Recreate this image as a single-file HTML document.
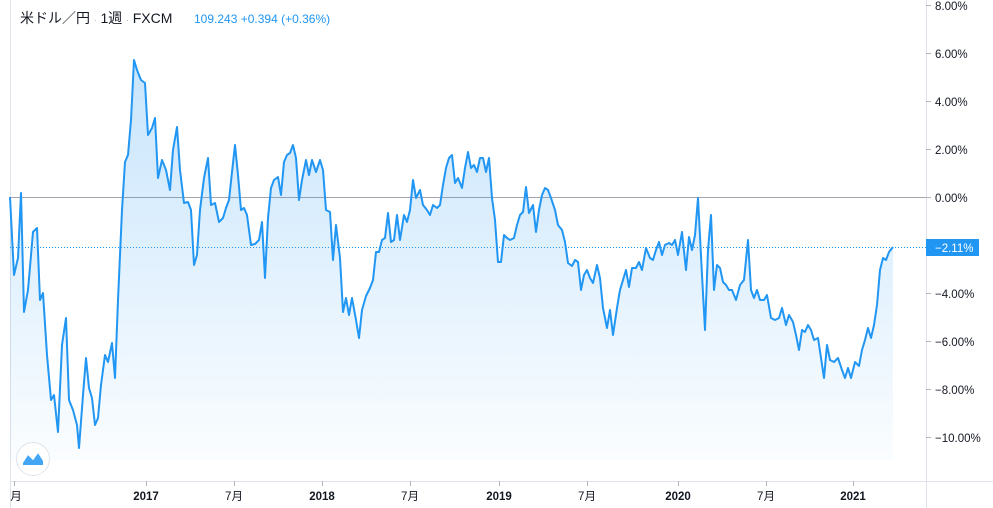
<!DOCTYPE html>
<html><head><meta charset="utf-8"><style>
body{margin:0;background:#fff;width:993px;height:508px;overflow:hidden;font-family:"Liberation Sans","Noto Sans CJK JP",sans-serif}
</style></head><body>
<svg width="993" height="508" xmlns="http://www.w3.org/2000/svg" style="position:absolute;left:0;top:0">
<defs><linearGradient id="g" x1="0" y1="0" x2="0" y2="1">
<stop offset="0" stop-color="#2196f3" stop-opacity="0.25"/><stop offset="1" stop-color="#2196f3" stop-opacity="0.02"/></linearGradient></defs>
<line x1="10.5" y1="0" x2="10.5" y2="508" stroke="#e0e3eb"/>
<line x1="926.5" y1="0" x2="926.5" y2="508" stroke="#e0e3eb"/>
<line x1="10" y1="481.5" x2="993" y2="481.5" stroke="#e0e3eb"/>
<line x1="10" y1="197.5" x2="926" y2="197.5" stroke="#a5a5b0"/>
<path id="p" d="M10,197 L14,275 18,258 21,193 24,312 28,290 33,232 37,228 40,300 43,293 47,355 51,400 54,395 58,432 62,345 66,318 69,400 73,410 77,425 79,448 83,395 86,358 89,388 92,398 95,425 98,418 101,385 105,355 108,362 112,343 115,378 118,300 122,210 125,162 128,155 131,120 134,60 137,70 141,80 145,83 148,135 152,128 155,118 158,178 162,160 166,170 170,190 173,150 177,127 180,170 184,203 188,202 191,210 194,265 197,255 200,210 204,178 208,158 211,205 215,203 219,222 223,218 226,208 229,200 232,172 235,145 238,175 241,210 244,208 247,215 251,245 255,244 259,240 262,222 265,278 268,218 271,188 274,180 278,177 281,195 284,162 287,155 290,153 293,145 296,158 299,200 302,180 306,160 309,175 312,160 316,172 320,160 323,170 326,210 330,212 333,260 336,225 340,258 343,312 346,298 349,315 352,298 356,320 359,338 362,310 366,296 370,288 373,280 376,252 379,252 382,240 385,238 388,213 391,242 394,240 397,215 400,240 404,215 407,222 410,210 413,180 416,198 420,190 423,205 427,210 430,215 433,205 437,208 440,205 443,185 446,168 449,158 452,155 455,183 458,178 462,188 465,168 468,152 471,168 474,165 477,172 480,158 483,158 486,172 489,158 492,198 495,220 498,262 501,262 504,235 507,238 510,240 514,238 517,225 520,215 523,212 526,187 529,213 533,205 536,232 539,210 542,195 545,188 548,190 551,198 555,210 558,225 562,230 565,242 568,263 572,266 575,260 578,262 581,290 584,275 587,270 590,278 593,283 597,265 600,278 603,308 607,328 610,310 613,335 617,308 620,290 623,280 626,270 629,287 632,268 636,268 639,262 642,270 646,248 650,258 653,260 656,250 659,242 662,255 665,245 669,243 672,245 675,240 678,255 682,232 686,270 689,237 692,250 695,235 698,198 702,275 705,330 708,250 711,215 714,290 717,265 720,268 723,282 726,285 729,290 732,290 736,300 740,285 744,280 748,240 751,290 754,298 757,290 760,300 764,300 767,295 771,318 775,320 779,318 782,308 786,325 789,315 793,322 796,335 799,350 802,330 805,332 808,325 811,330 814,340 818,338 821,358 824,378 827,345 830,360 834,362 838,358 842,370 845,378 848,368 851,378 855,362 859,366 862,350 865,340 868,328 871,338 874,325 877,305 880,270 883,258 886,260 889,252 893,247" fill="none" stroke="#2196f3" stroke-width="2" stroke-linejoin="round"/>
<use href="#p" style="display:none"/>
<polygon fill="url(#g)" points="10,197 14,275 18,258 21,193 24,312 28,290 33,232 37,228 40,300 43,293 47,355 51,400 54,395 58,432 62,345 66,318 69,400 73,410 77,425 79,448 83,395 86,358 89,388 92,398 95,425 98,418 101,385 105,355 108,362 112,343 115,378 118,300 122,210 125,162 128,155 131,120 134,60 137,70 141,80 145,83 148,135 152,128 155,118 158,178 162,160 166,170 170,190 173,150 177,127 180,170 184,203 188,202 191,210 194,265 197,255 200,210 204,178 208,158 211,205 215,203 219,222 223,218 226,208 229,200 232,172 235,145 238,175 241,210 244,208 247,215 251,245 255,244 259,240 262,222 265,278 268,218 271,188 274,180 278,177 281,195 284,162 287,155 290,153 293,145 296,158 299,200 302,180 306,160 309,175 312,160 316,172 320,160 323,170 326,210 330,212 333,260 336,225 340,258 343,312 346,298 349,315 352,298 356,320 359,338 362,310 366,296 370,288 373,280 376,252 379,252 382,240 385,238 388,213 391,242 394,240 397,215 400,240 404,215 407,222 410,210 413,180 416,198 420,190 423,205 427,210 430,215 433,205 437,208 440,205 443,185 446,168 449,158 452,155 455,183 458,178 462,188 465,168 468,152 471,168 474,165 477,172 480,158 483,158 486,172 489,158 492,198 495,220 498,262 501,262 504,235 507,238 510,240 514,238 517,225 520,215 523,212 526,187 529,213 533,205 536,232 539,210 542,195 545,188 548,190 551,198 555,210 558,225 562,230 565,242 568,263 572,266 575,260 578,262 581,290 584,275 587,270 590,278 593,283 597,265 600,278 603,308 607,328 610,310 613,335 617,308 620,290 623,280 626,270 629,287 632,268 636,268 639,262 642,270 646,248 650,258 653,260 656,250 659,242 662,255 665,245 669,243 672,245 675,240 678,255 682,232 686,270 689,237 692,250 695,235 698,198 702,275 705,330 708,250 711,215 714,290 717,265 720,268 723,282 726,285 729,290 732,290 736,300 740,285 744,280 748,240 751,290 754,298 757,290 760,300 764,300 767,295 771,318 775,320 779,318 782,308 786,325 789,315 793,322 796,335 799,350 802,330 805,332 808,325 811,330 814,340 818,338 821,358 824,378 827,345 830,360 834,362 838,358 842,370 845,378 848,368 851,378 855,362 859,366 862,350 865,340 868,328 871,338 874,325 877,305 880,270 883,258 886,260 889,252 893,247 893,460 10,460"/>
<line x1="10" y1="247.5" x2="926" y2="247.5" stroke="#2196f3" stroke-dasharray="1,2"/>
<g stroke="#b2b5be">
<line x1="926" y1="5.5" x2="931" y2="5.5"/><line x1="926" y1="53.5" x2="931" y2="53.5"/><line x1="926" y1="101.5" x2="931" y2="101.5"/><line x1="926" y1="149.5" x2="931" y2="149.5"/><line x1="926" y1="197.5" x2="931" y2="197.5"/><line x1="926" y1="293.5" x2="931" y2="293.5"/><line x1="926" y1="341.5" x2="931" y2="341.5"/><line x1="926" y1="389.5" x2="931" y2="389.5"/><line x1="926" y1="437.5" x2="931" y2="437.5"/>
<line x1="14.5" y1="481" x2="14.5" y2="486"/><line x1="146.5" y1="481" x2="146.5" y2="486"/><line x1="234.5" y1="481" x2="234.5" y2="486"/><line x1="322.5" y1="481" x2="322.5" y2="486"/><line x1="410.5" y1="481" x2="410.5" y2="486"/><line x1="499.5" y1="481" x2="499.5" y2="486"/><line x1="587.5" y1="481" x2="587.5" y2="486"/><line x1="678.5" y1="481" x2="678.5" y2="486"/><line x1="766.5" y1="481" x2="766.5" y2="486"/><line x1="853.5" y1="481" x2="853.5" y2="486"/>
</g>
<g font-size="11.5" fill="#131722">
<text x="935" y="10">8.00%</text><text x="935" y="58">6.00%</text><text x="935" y="106">4.00%</text><text x="935" y="154">2.00%</text><text x="935" y="202">0.00%</text>
<text x="935" y="298">−4.00%</text><text x="935" y="346">−6.00%</text><text x="935" y="394">−8.00%</text><text x="935" y="442">−10.00%</text>
</g>
<rect x="926" y="239" width="53" height="17" fill="#2196f3"/>
<text x="935" y="252" font-size="11.5" fill="#fff">−2.11%</text>
<g font-size="11.5" fill="#131722" text-anchor="middle">
<text x="16" y="500">月</text>
<text x="146" y="500" font-weight="bold">2017</text><text x="234" y="500">7月</text>
<text x="322" y="500" font-weight="bold">2018</text><text x="410" y="500">7月</text>
<text x="499" y="500" font-weight="bold">2019</text><text x="587" y="500">7月</text>
<text x="678" y="500" font-weight="bold">2020</text><text x="766" y="500">7月</text>
<text x="853" y="500" font-weight="bold">2021</text>
</g>
<circle cx="33" cy="459" r="16.5" fill="#fff" stroke="#e0e3eb"/>
<path d="M23,463 L28,455 L33,460 L38,453 L43,461 L43,465 L23,465Z" fill="#2196f3" opacity="0.85"/>
<polyline points="23,461 28,454 33,459 38,452 43,459" fill="none" stroke="#fff" stroke-width="1.5"/>
<text x="20" y="23" font-size="14" fill="#131722">米ドル／円 <tspan fill="#999" font-size="8">·</tspan> 1週 <tspan fill="#999" font-size="8">·</tspan> FXCM</text>
<text x="194" y="23" font-size="12" fill="#2196f3">109.243  +0.394 (+0.36%)</text>
</svg>
</body></html>
